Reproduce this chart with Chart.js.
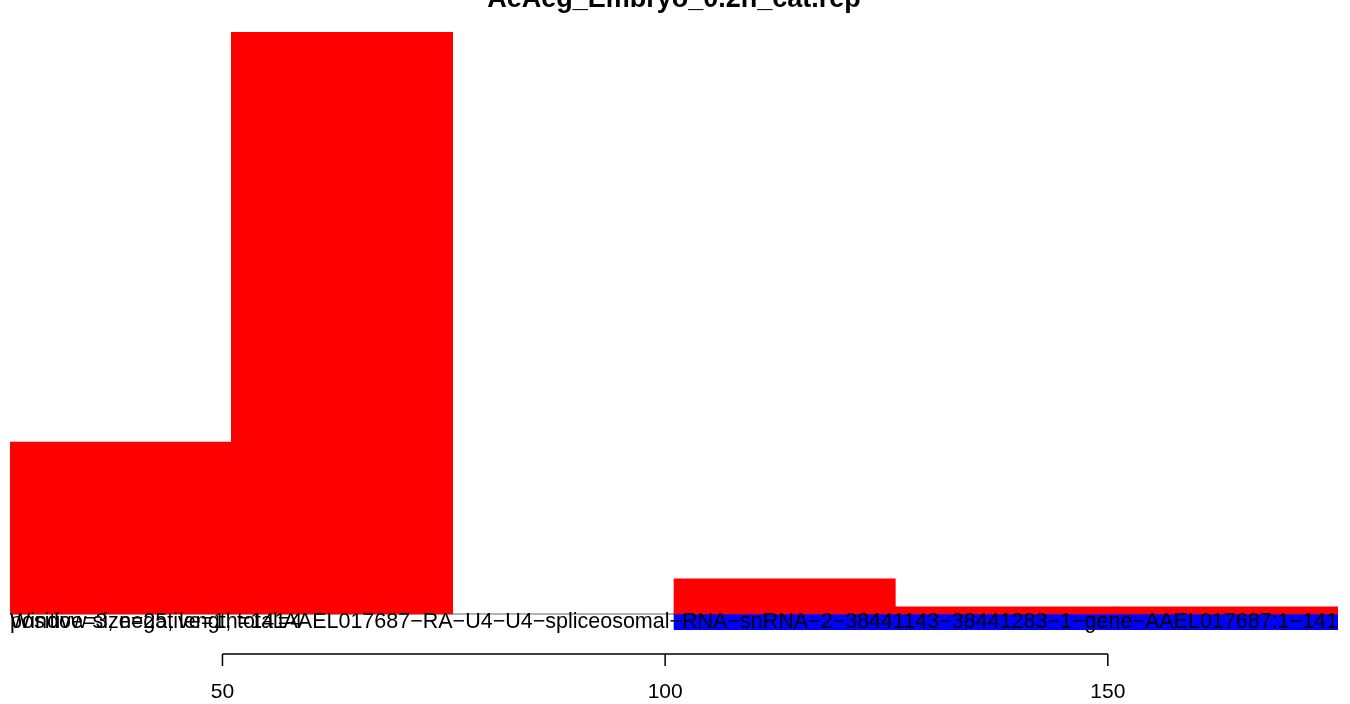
<!DOCTYPE html>
<html>
<head>
<meta charset="utf-8">
<script src="https://cdn.jsdelivr.net/npm/chart.js@4/dist/chart.umd.min.js"></script>
<style>
  body { margin: 0; background: #fff; }
  canvas { display: block; }
</style>
</head>
<body>
<canvas id="repChart" width="1350" height="704"></canvas>
<script>
// bin centres (bins of width 25, from 26 to 176)
const binCenters = [38.5, 63.5, 88.5, 113.5, 138.5, 163.5];
// positive strand counts (red)
const positiveVals = [24.5, 83, 0, 5, 1, 1];
// negative strand counts (blue)
const negativeVals = [0, 0, 0, -2.3, -2.3, -2.3];
// x axis ticks
const xTicks = [50, 100, 150];

const chartTitle = 'AeAeg_Embryo_0.2h_cat.rep';
const infoLines = ['positive=3, negative=1, total=4', 'Window size=25, length=141'];
const geneLabel = 'AAEL017687\u2212RA\u2212U4\u2212U4\u2212spliceosomal\u2212RNA\u2212snRNA\u22122\u221238441143\u221238441283\u22121\u2212gene\u2212AAEL017687:1\u2212141';

const FONT = '"Liberation Sans", Arial, Helvetica, sans-serif';

// empty bins are not drawn
const toPoints = vals => binCenters.map((x, i) => ({ x: x, y: vals[i] === 0 ? null : vals[i] }));

// Draw zero line, axis and texts R-style
const decorPlugin = {
    id: 'decor',
    beforeDatasetsDraw(chart) {
        const ctx = chart.ctx;
        const area = chart.chartArea;
        const y0 = chart.scales.y.getPixelForValue(0);
        ctx.save();
        ctx.strokeStyle = '#999999';
        ctx.lineWidth = 1.5;
        ctx.beginPath();
        ctx.moveTo(area.left, y0);
        ctx.lineTo(area.right, y0);
        ctx.stroke();
        ctx.restore();
    },
    afterDraw(chart) {
        const ctx = chart.ctx;
        const area = chart.chartArea;
        const xs = chart.scales.x;
        const y0 = chart.scales.y.getPixelForValue(0);
        ctx.save();

        // title
        ctx.fillStyle = '#000';
        ctx.font = 'bold 27px ' + FONT;
        ctx.textAlign = 'center';
        ctx.textBaseline = 'alphabetic';
        ctx.fillText(chartTitle, (area.left + area.right) / 2, 7);

        // texts under the zero line
        ctx.font = '21.5px ' + FONT;
        ctx.textBaseline = 'middle';
        ctx.textAlign = 'left';
        infoLines.forEach(t => ctx.fillText(t, area.left, y0 + 8));
        ctx.textAlign = 'right';
        ctx.fillText(geneLabel, area.right, y0 + 8);

        // x axis
        const axisY = 654;
        ctx.strokeStyle = '#000';
        ctx.lineWidth = 1.5;
        ctx.beginPath();
        ctx.moveTo(xs.getPixelForValue(xTicks[0]), axisY);
        ctx.lineTo(xs.getPixelForValue(xTicks[xTicks.length - 1]), axisY);
        xTicks.forEach(v => {
            const px = xs.getPixelForValue(v);
            ctx.moveTo(px, axisY);
            ctx.lineTo(px, axisY + 12);
        });
        ctx.stroke();
        ctx.font = '21px ' + FONT;
        ctx.textAlign = 'center';
        ctx.textBaseline = 'middle';
        xTicks.forEach(v => ctx.fillText(String(v), xs.getPixelForValue(v), 692));
        ctx.restore();
    }
};

new Chart(document.getElementById('repChart'), {
    type: 'bar',
    data: {
        datasets: [{
            label: 'positive',
            data: toPoints(positiveVals),
            backgroundColor: '#ff0000',
            borderWidth: 0,
            barPercentage: 1,
            categoryPercentage: 1
        }, {
            label: 'negative',
            data: toPoints(negativeVals),
            backgroundColor: '#0000ff',
            borderWidth: 0,
            barPercentage: 1,
            categoryPercentage: 1
        }]
    },
    options: {
        responsive: false,
        animation: false,
        layout: { padding: { left: 10, right: 12, top: 32, bottom: 74 } },
        plugins: { legend: { display: false }, tooltip: { enabled: false } },
        scales: {
            x: {
                type: 'linear', min: 26, max: 176, offset: false, stacked: true,
                display: false,
                // no ticks, so bar width comes from the bin spacing only
                afterBuildTicks: s => { s.ticks = []; }
            },
            y: {
                min: -2.3, max: 83, stacked: true,
                display: false
            }
        }
    },
    plugins: [decorPlugin]
});
</script>
</body>
</html>
